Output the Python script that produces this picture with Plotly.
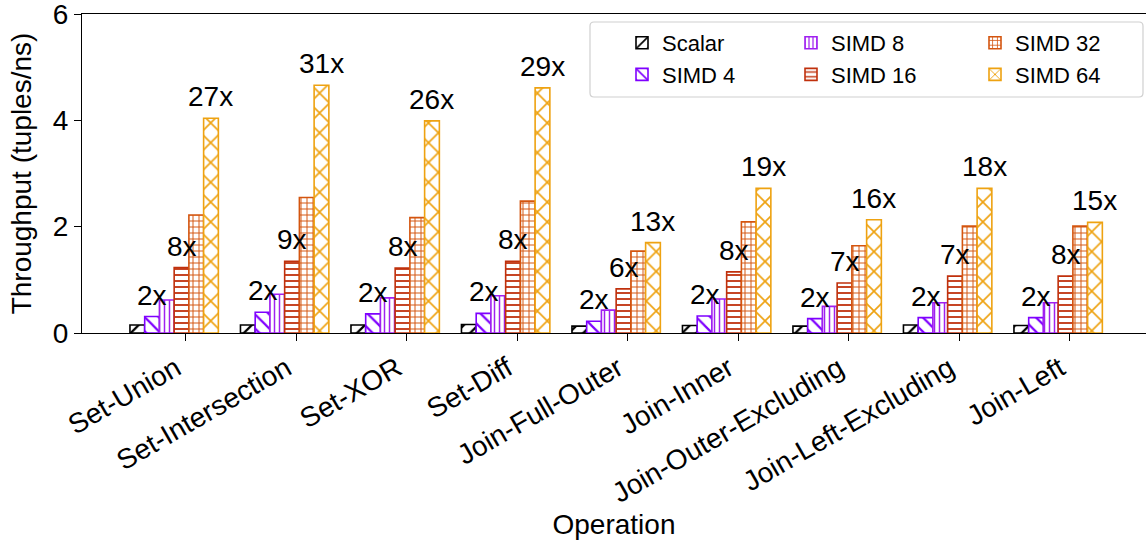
import plotly.graph_objects as go

# ---------------- data ----------------
operations = ["Set-Union", "Set-Intersection", "Set-XOR", "Set-Diff", "Join-Full-Outer",
              "Join-Inner", "Join-Outer-Excluding", "Join-Left-Excluding", "Join-Left"]
series_names = ["Scalar", "SIMD 4", "SIMD 8", "SIMD 16", "SIMD 32", "SIMD 64"]

scalar = [0.15, 0.15, 0.15, 0.16, 0.13, 0.14, 0.13, 0.15, 0.14]
simd4 = [0.31, 0.39, 0.36, 0.37, 0.22, 0.32, 0.27, 0.29, 0.29]
simd8 = [0.62, 0.73, 0.66, 0.70, 0.43, 0.64, 0.50, 0.57, 0.57]
simd16 = [1.23, 1.35, 1.22, 1.35, 0.83, 1.15, 0.94, 1.07, 1.07]
simd32 = [2.22, 2.55, 2.17, 2.48, 1.54, 2.09, 1.64, 2.01, 2.01]
simd64 = [4.04, 4.66, 3.99, 4.61, 1.70, 2.72, 2.13, 2.72, 2.08]

speedup_simd4 = ["2x", "2x", "2x", "2x", "2x", "2x", "2x", "2x", "2x"]
speedup_simd16 = ["8x", "9x", "8x", "8x", "6x", "8x", "7x", "7x", "8x"]
speedup_simd64 = ["27x", "31x", "26x", "29x", "13x", "19x", "16x", "18x", "15x"]

y_ticks = [0, 2, 4, 6]

# ---------------- style ----------------
FONT = "Liberation Sans, Arial, Helvetica, sans-serif"
colors = ["#000000", "#7f00ff", "#a020f0", "#c0300c", "#d4550f", "#eea211"]
pshapes = ["/", "\\", "|", "-", "+", "x"]
psizes = [10, 10, 5, 6, 6, 14]
psolid = [0.22, 0.22, 0.3, 0.3, 0.3, 0.22]
legend_ids = ["legend", "legend", "legend2", "legend2", "legend3", "legend3"]
bar_w = 0.8 / 6
first_offset = -0.507

all_series = [scalar, simd4, simd8, simd16, simd32, simd64]

fig = go.Figure()
for j, (name, vals) in enumerate(zip(series_names, all_series)):
    fig.add_trace(go.Bar(
        x=operations, y=vals, name=name,
        width=bar_w, offset=first_offset + j * bar_w,
        marker=dict(color="white",
                    line=dict(color=colors[j], width=1.6),
                    pattern=dict(shape=pshapes[j], fgcolor=colors[j], bgcolor="white",
                                 size=psizes[j], solidity=psolid[j], fillmode="overlay",
                                 fgopacity=1)),
        legend=legend_ids[j],
    ))

# speedup labels
annotations = []
for j, (vals, labels) in zip([1, 3, 5], [(simd4, speedup_simd4), (simd16, speedup_simd16),
                                        (simd64, speedup_simd64)]):
    for i, (v, t) in enumerate(zip(vals, labels)):
        annotations.append(dict(
            x=i + first_offset + (j + 0.5) * bar_w, y=v, xref="x", yref="y",
            text=t, showarrow=False, yanchor="bottom", xanchor="center", yshift=4,
            font=dict(family=FONT, size=28, color="black")))

# body margin is removed in the page, so figure coords == page coords
L, R, T, B = 82, 1146, 14, 333
W, H = 1146, 548


def px(x):
    return (x - L) / (R - L)


def py(y):
    return 1 - (y - T) / (B - T)


x0, x1, y0, y1, r = 590, 1143, 22, 97, 4
path = (f"M {px(x0 + r)},{py(y0)} L {px(x1 - r)},{py(y0)} Q {px(x1)},{py(y0)} {px(x1)},{py(y0 + r)} "
        f"L {px(x1)},{py(y1 - r)} Q {px(x1)},{py(y1)} {px(x1 - r)},{py(y1)} "
        f"L {px(x0 + r)},{py(y1)} Q {px(x0)},{py(y1)} {px(x0)},{py(y1 - r)} "
        f"L {px(x0)},{py(y0 + r)} Q {px(x0)},{py(y0)} {px(x0 + r)},{py(y0)} Z")

leg_common = dict(bgcolor="rgba(0,0,0,0)", borderwidth=0, yanchor="top", xanchor="left",
                  orientation="v", font=dict(family=FONT, size=22, color="black"),
                  tracegroupgap=0, itemwidth=30)

fig.update_layout(
    width=W, height=H,
    margin=dict(l=L, r=W - R, t=T, b=H - B, autoexpand=False),
    paper_bgcolor="white", plot_bgcolor="white",
    barmode="overlay",
    font=dict(family=FONT, size=28, color="black"),
    showlegend=True,
    legend=dict(x=px(622), y=py(22), **leg_common),
    legend2=dict(x=px(791), y=py(22), **leg_common),
    legend3=dict(x=px(975), y=py(22), **leg_common),
    shapes=[dict(type="path", path=path, xref="paper", yref="paper",
                 fillcolor="rgba(255,255,255,0.8)", line=dict(color="#d0d0d0", width=1.2),
                 layer="above")],
    annotations=annotations,
    xaxis=dict(type="category", range=[-0.941, 8.688], tickangle=-30,
               ticks="outside", ticklen=7, tickwidth=1.3, tickcolor="black",
               showline=True, linecolor="black", linewidth=1.3, mirror=True,
               showgrid=False, zeroline=False, ticklabelshift=-10,
               tickfont=dict(family=FONT, size=28, color="black"),
               title=dict(text="Operation", font=dict(family=FONT, size=28, color="black"),
                          standoff=6)),
    yaxis=dict(range=[0, 6], tickvals=y_ticks, ticklabeloverflow="allow",
               ticks="outside", ticklen=7, tickwidth=1.3, tickcolor="black",
               showline=True, linecolor="black", linewidth=1.3, mirror=False,
               showgrid=False, zeroline=False,
               tickfont=dict(family=FONT, size=28, color="black"),
               title=dict(text="Throughput (tuples/ns)",
                          font=dict(family=FONT, size=28, color="black"), standoff=12)),
)

fig.write_html("out.html", config={"displayModeBar": False},
               post_script="document.body.style.margin='0';")
